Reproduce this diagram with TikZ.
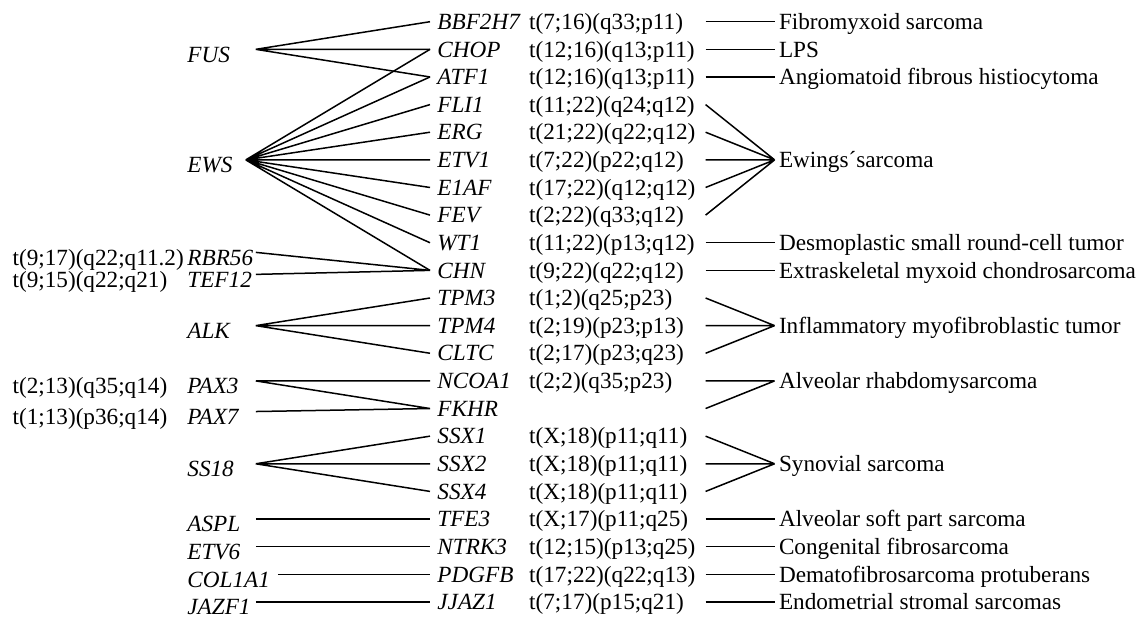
\documentclass[tikz,border=0pt]{standalone}
\usepackage{fontspec}
\setmainfont{Liberation Serif}
\usetikzlibrary{positioning}
\newcommand\figfont{\fontsize{11.6}{13.9}\selectfont}

\begin{document}
\begin{tikzpicture}[
  x = 0.5pt, y = -0.5pt,
  node distance     = 13.815pt,
  every node/.style = {font=\figfont, inner ysep=0pt, text height=7.7pt, text depth=0pt},
  gene/.style       = {font=\figfont\itshape, anchor=west, inner xsep=3.5pt, text width=42pt, align=left},
  trans/.style      = {inner xsep=0pt, text width=88pt, align=left},
  disease/.style    = {inner xsep=2pt},
  lgene/.style      = {font=\figfont\itshape, anchor=west, inner xsep=0pt, text width=34pt, align=left, text height=12.7pt},
  ltrans/.style     = {inner xsep=0pt, text width=87pt, align=left, text height=12.7pt},
  link/.style       = {line width=0.75pt},
  ]
  \useasboundingbox (0,0) rectangle (1142,617);
  % 3' fusion partners
  \node[gene] (BBF2H7) at (430,21.7) {BBF2H7};
  \node[gene, below of=BBF2H7] (CHOP) {CHOP};
  \node[gene, below of=CHOP] (ATF1) {ATF1};
  \node[gene, below of=ATF1] (FLI1) {FLI1};
  \node[gene, below of=FLI1] (ERG) {ERG};
  \node[gene, below of=ERG] (ETV1) {ETV1};
  \node[gene, below of=ETV1] (E1AF) {E1AF};
  \node[gene, below of=E1AF] (FEV) {FEV};
  \node[gene, below of=FEV] (WT1) {WT1};
  \node[gene, below of=WT1] (CHN) {CHN};
  \node[gene, below of=CHN] (TPM3) {TPM3};
  \node[gene, below of=TPM3] (TPM4) {TPM4};
  \node[gene, below of=TPM4] (CLTC) {CLTC};
  \node[gene, below of=CLTC] (NCOA1) {NCOA1};
  \node[gene, below of=NCOA1] (FKHR) {FKHR};
  \node[gene, below of=FKHR] (SSX1) {SSX1};
  \node[gene, below of=SSX1] (SSX2) {SSX2};
  \node[gene, below of=SSX2] (SSX4) {SSX4};
  \node[gene, below of=SSX4] (TFE3) {TFE3};
  \node[gene, below of=TFE3] (NTRK3) {NTRK3};
  \node[gene, below of=NTRK3] (PDGFB) {PDGFB};
  \node[gene, below of=PDGFB] (JJAZ1) {JJAZ1};
  % translocations
  \node[trans, right=0pt of BBF2H7] (BBF2H7t) {t(7;16)(q33;p11)};
  \node[trans, right=0pt of CHOP] (CHOPt) {t(12;16)(q13;p11)};
  \node[trans, right=0pt of ATF1] (ATF1t) {t(12;16)(q13;p11)};
  \node[trans, right=0pt of FLI1] (FLI1t) {t(11;22)(q24;q12)};
  \node[trans, right=0pt of ERG] (ERGt) {t(21;22)(q22;q12)};
  \node[trans, right=0pt of ETV1] (ETV1t) {t(7;22)(p22;q12)};
  \node[trans, right=0pt of E1AF] (E1AFt) {t(17;22)(q12;q12)};
  \node[trans, right=0pt of FEV] (FEVt) {t(2;22)(q33;q12)};
  \node[trans, right=0pt of WT1] (WT1t) {t(11;22)(p13;q12)};
  \node[trans, right=0pt of CHN] (CHNt) {t(9;22)(q22;q12)};
  \node[trans, right=0pt of TPM3] (TPM3t) {t(1;2)(q25;p23)};
  \node[trans, right=0pt of TPM4] (TPM4t) {t(2;19)(p23;p13)};
  \node[trans, right=0pt of CLTC] (CLTCt) {t(2;17)(p23;q23)};
  \node[trans, right=0pt of NCOA1] (NCOA1t) {t(2;2)(q35;p23)};
  \coordinate (FKHRt) at (FKHR -| NCOA1t.east);
  \node[trans, right=0pt of SSX1] (SSX1t) {t(X;18)(p11;q11)};
  \node[trans, right=0pt of SSX2] (SSX2t) {t(X;18)(p11;q11)};
  \node[trans, right=0pt of SSX4] (SSX4t) {t(X;18)(p11;q11)};
  \node[trans, right=0pt of TFE3] (TFE3t) {t(X;17)(p11;q25)};
  \node[trans, right=0pt of NTRK3] (NTRK3t) {t(12;15)(p13;q25)};
  \node[trans, right=0pt of PDGFB] (PDGFBt) {t(17;22)(q22;q13)};
  \node[trans, right=0pt of JJAZ1] (JJAZ1t) {t(7;17)(p15;q21)};
  % tumours
  \node[disease, right=34.5pt of BBF2H7t] (fms) {Fibromyxoid sarcoma};
  \node[disease, right=34.5pt of CHOPt] (lps) {LPS};
  \node[disease, right=34.5pt of ATF1t] (afh) {Angiomatoid fibrous histiocytoma};
  \node[disease, right=34.5pt of ETV1t] (ewing) {Ewings´sarcoma};
  \node[disease, right=34.5pt of WT1t] (dsrct) {Desmoplastic small round-cell tumor};
  \node[disease, right=34.5pt of CHNt] (emc) {Extraskeletal myxoid chondrosarcoma};
  \node[disease, right=34.5pt of TPM4t] (imt) {Inflammatory myofibroblastic tumor};
  \node[disease, right=34.5pt of NCOA1t] (arms) {Alveolar rhabdomysarcoma};
  \node[disease, right=34.5pt of SSX2t] (syn) {Synovial sarcoma};
  \node[disease, right=34.5pt of TFE3t] (asps) {Alveolar soft part sarcoma};
  \node[disease, right=34.5pt of NTRK3t] (cfs) {Congenital fibrosarcoma};
  \node[disease, right=34.5pt of PDGFBt] (dfsp) {Dematofibrosarcoma protuberans};
  \node[disease, right=34.5pt of JJAZ1t] (ess) {Endometrial stromal sarcomas};
  % 5' fusion partners
  \coordinate (lcol) at (187,0);
  \node[lgene] (FUS) at (lcol |- CHOP) {FUS};
  \node[lgene, text width=29pt] (EWS) at (lcol |- ETV1) {EWS};
  \node[lgene, yshift=9pt] (RBR56) at (lcol |- CHN) {RBR56};
  \node[lgene, yshift=-2pt] (TEF12) at (lcol |- CHN) {TEF12};
  \node[lgene] (ALK) at (lcol |- TPM4) {ALK};
  \node[lgene] (PAX3) at (lcol |- NCOA1) {PAX3};
  \node[lgene, yshift=-1.5pt] (PAX7) at (lcol |- FKHR) {PAX7};
  \node[lgene] (SS18) at (lcol |- SSX2) {SS18};
  \node[lgene] (ASPL) at (lcol |- TFE3) {ASPL};
  \node[lgene] (ETV6) at (lcol |- NTRK3) {ETV6};
  \node[lgene, text width=45pt] (COL1A1) at (lcol |- PDGFB) {COL1A1};
  \node[lgene] (JAZF1) at (lcol |- JJAZ1) {JAZF1};
  % labels
  \node[ltrans, left=0pt of RBR56] (RBR56t) {t(9;17)(q22;q11.2)};
  \node[ltrans, left=0pt of TEF12] (TEF12t) {t(9;15)(q22;q21)};
  \node[ltrans, left=0pt of PAX3] (PAX3t) {t(2;13)(q35;q14)};
  \node[ltrans, left=0pt of PAX7] (PAX7t) {t(1;13)(p36;q14)};
  % fusions
  \draw[link] (FUS.east) -- (BBF2H7.west) (FUS.east) -- (CHOP.west) (FUS.east) -- (ATF1.west);
  \draw[link] (EWS.east) -- (CHOP.west) (EWS.east) -- (ATF1.west) (EWS.east) -- (FLI1.west)
              (EWS.east) -- (ERG.west) (EWS.east) -- (ETV1.west) (EWS.east) -- (E1AF.west)
              (EWS.east) -- (FEV.west) (EWS.east) -- (WT1.west) (EWS.east) -- (CHN.west);
  \draw[link] (RBR56.east) -- (CHN.west) (TEF12.east) -- (CHN.west);
  \draw[link] (ALK.east) -- (TPM3.west) (ALK.east) -- (TPM4.west) (ALK.east) -- (CLTC.west);
  \draw[link] (PAX3.east) -- (NCOA1.west) (PAX3.east) -- (FKHR.west) (PAX7.east) -- (FKHR.west);
  \draw[link] (SS18.east) -- (SSX1.west) (SS18.east) -- (SSX2.west) (SS18.east) -- (SSX4.west);
  \draw[link] (ASPL.east) -- (TFE3.west) (ETV6.east) -- (NTRK3.west);
  \draw[link] (COL1A1.east) -- (PDGFB.west) (JAZF1.east) -- (JJAZ1.west);
  % tumour links
  \draw[link] (BBF2H7t.east) -- (fms.west) (CHOPt.east) -- (lps.west) (ATF1t.east) -- (afh.west);
  \draw[link] (FLI1t.east) -- (ewing.west) (ERGt.east) -- (ewing.west) (ETV1t.east) -- (ewing.west)
              (E1AFt.east) -- (ewing.west) (FEVt.east) -- (ewing.west);
  \draw[link] (WT1t.east) -- (dsrct.west) (CHNt.east) -- (emc.west);
  \draw[link] (TPM3t.east) -- (imt.west) (TPM4t.east) -- (imt.west) (CLTCt.east) -- (imt.west);
  \draw[link] (NCOA1t.east) -- (arms.west) (FKHRt) -- (arms.west);
  \draw[link] (SSX1t.east) -- (syn.west) (SSX2t.east) -- (syn.west) (SSX4t.east) -- (syn.west);
  \draw[link] (TFE3t.east) -- (asps.west) (NTRK3t.east) -- (cfs.west);
  \draw[link] (PDGFBt.east) -- (dfsp.west) (JJAZ1t.east) -- (ess.west);
\end{tikzpicture}
\end{document}
